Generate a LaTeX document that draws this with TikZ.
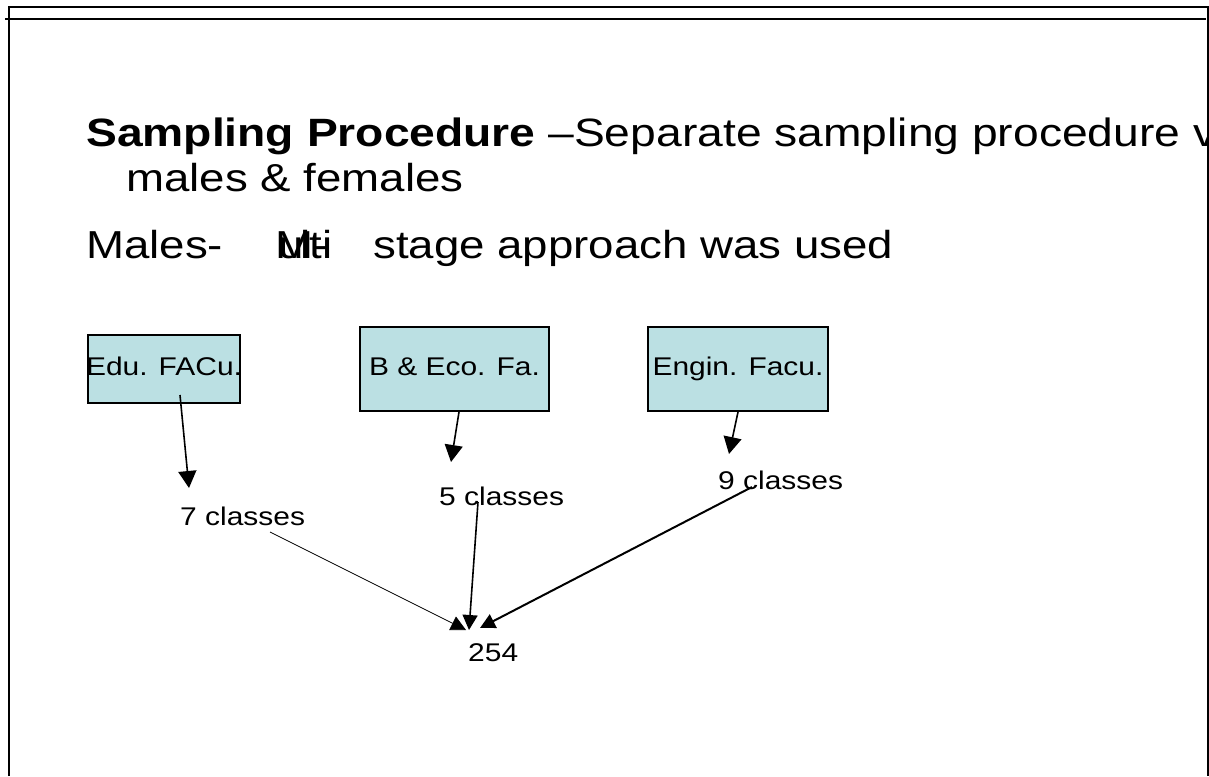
\documentclass[tikz,border=0pt]{standalone}
\usepackage{fontspec}
\setmainfont[FakeStretch=1.17]{Liberation Sans}
\usetikzlibrary{
    arrows.meta,
    calc,
    positioning
}
\definecolor{facfill}{RGB}{187,224,227}
\tikzset{
    facbox/.style={draw, line width=2pt, fill=facfill, inner sep=0pt, text height=18pt, text depth=5pt, font=\fontsize{25.6}{30}\selectfont},
    lbl/.style={inner sep=0pt, anchor=base west, font=\fontsize{25.6}{30}\selectfont},
    big/.style={inner sep=0pt, anchor=base west, font=\fontsize{39}{45}\selectfont},
    flow/.style={line width=1.6pt, -{Triangle[length=17pt, width=18pt]}},
    merge/.style={-{Triangle[length=15pt, width=15pt]}},
    frame/.style={line width=2pt}
}

\begin{document}
\begin{tikzpicture}[x=1pt, y=-1pt]
    \useasboundingbox (0, 0) rectangle (1209, 776);
    % slide frame
    \draw[frame] (8.5, 776) -- (8.5, 7) -- (1208, 7) -- (1208, 776);
    \draw[frame] (5, 19) -- (1206, 19);
    % heading, runs off the right edge
    \begin{scope}
        \clip (0, 0) rectangle (1207, 776);
        \node[big, font=\fontsize{39.5}{45}\selectfont] (head) at (86, 146) {\textbf{Sampling Procedure} –Separate sampling procedure v};
    \end{scope}
    \node[big] (sexes) at (126, 191) {males \& females};
    \node[big] (males) at (86, 258) {Males-};
    \node[big] (multi) at (275, 258) {M\kern-35pt u\kern-3.6pt l\kern-1pt t\kern1pt i\kern-18pt -};
    \node[big] (stage) at (373, 258) {stage approach was used};
    % faculties
    \node[facbox, minimum height=68pt] (edu) at (164, 369) {\makebox[152pt]{Edu. FACu.}};
    \node[facbox, minimum width=189pt, minimum height=84pt] (bus) at (454.5, 369) {B \& Eco. Fa.};
    \node[facbox, minimum width=180pt, minimum height=84pt] (eng) at (738, 369) {Engin. Facu.};
    % classes
    \node[lbl] (c7) at (180, 525) {7 classes};
    \node[lbl] (c5) at (439, 505) {5 classes};
    \node[lbl] (c9) at (718, 489) {9 classes};
    \node[lbl] (total) at (468, 661) {254};
    \coordinate (t7) at (189, 488);
    \coordinate (t5) at (451, 462);
    \coordinate (t9) at (729, 454);
    \draw[flow] ([xshift=16pt, yshift=9pt]edu.south) -- (t7);
    \draw[flow] ([xshift=4.5pt]bus.south) -- (t5);
    \draw[flow] (eng.south) -- (t9);
    % sample
    \coordinate (s7) at ($(c7.base west)+(90, 7)$);
    \coordinate (s5) at ($(c5.base west)+(39, -3)$);
    \coordinate (s9) at ($(c9.base west)+(34, -2)$);
    \coordinate (e7) at (466, 630);
    \coordinate (e5) at (469, 630);
    \coordinate (e9) at (480, 628);
    \draw[merge, line width=0.7pt] (s7) -- (e7);
    \draw[merge, line width=1.6pt] (s5) -- (e5);
    \draw[merge, line width=2pt] (s9) -- (e9);
\end{tikzpicture}
\end{document}
